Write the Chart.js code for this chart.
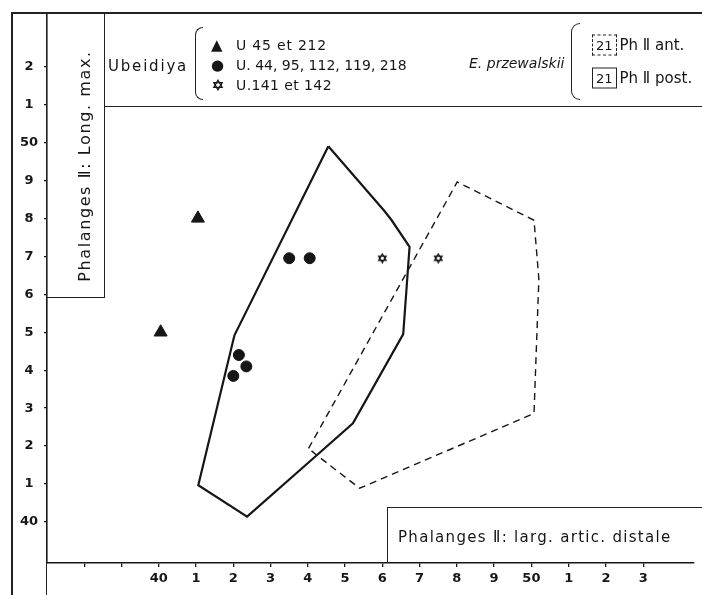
<!DOCTYPE html>
<html>
<head>
<meta charset="utf-8">
<script src="https://cdn.jsdelivr.net/npm/chart.js@4.4.1/dist/chart.umd.min.js"></script>
<style>
  html, body { margin: 0; padding: 0; background: #fff; }
  #wrap { position: relative; width: 702px; height: 595px; overflow: hidden; font-family: 'DejaVu Sans', sans-serif; color: #161616; }
  #chart { position: absolute; left: 0; top: 0; }
  .ov { position: absolute; box-sizing: border-box; pointer-events: none; }
  .lbl { position: absolute; white-space: nowrap; font-size: 14px; line-height: 1; transform: translateY(-50%); }
  .box21 { display: inline-block; font-size: 13px; padding: 3px 3px; border: 1.5px solid #222; margin-right: 3px; vertical-align: middle; letter-spacing: 0; }
</style>
</head>
<body>
<div id="wrap">
  <canvas id="chart" width="702" height="595"></canvas>

  <!-- frame lines -->
  <div class="ov" style="left:11px;top:12px;width:691px;height:583px;border-left:2px solid #222;border-top:2px solid #222;"></div>
  <div class="ov" style="left:46px;top:13px;width:59px;height:285px;border-left:1.5px solid #222;border-right:1.5px solid #222;border-bottom:1.5px solid #222;"></div>
  <div class="ov" style="left:46px;top:560px;width:2px;height:35px;border-left:1.5px solid #222;"></div>
  <div class="ov" style="left:104px;top:106px;width:598px;height:2px;border-top:1.5px solid #222;"></div>
  <div class="ov" style="left:387px;top:507px;width:315px;height:56px;border-left:1.5px solid #222;border-top:1.5px solid #222;"></div>

  <!-- axis titles -->
  <div class="lbl" style="left:85px;top:166px;font-size:16px;letter-spacing:1.6px;transform:translate(-50%,-50%) rotate(-90deg);">Phalanges Ⅱ: Long. max.</div>
  <div class="lbl" style="left:398px;top:537px;font-size:15px;letter-spacing:1.3px;">Phalanges Ⅱ: larg. artic. distale</div>

  <!-- legend -->
  <div class="lbl" style="left:108px;top:66px;font-size:15px;letter-spacing:1.8px;">Ubeidiya</div>
  <div class="ov" style="left:195px;top:27px;width:8px;height:73px;border-left:1.5px solid #222;border-top:1.5px solid #222;border-bottom:1.5px solid #222;border-radius:8px 0 0 8px;"></div>
  <div class="lbl" style="left:211px;top:45px;font-size:15px;">▲</div>
  <div class="lbl" style="left:236px;top:45px;letter-spacing:0.8px;">U 45 et 212</div>
  <div class="lbl" style="left:211px;top:65px;font-size:15px;">●</div>
  <div class="lbl" style="left:236px;top:65px;">U. 44, 95, 112, 119, 218</div>
  <canvas id="legStar" width="12" height="12" style="position:absolute;left:212px;top:79px;"></canvas>
  <div class="lbl" style="left:236px;top:85px;letter-spacing:0.4px;">U.141 et 142</div>

  <div class="lbl" style="left:469px;top:63px;font-style:italic;">E. przewalskii</div>
  <div class="ov" style="left:571px;top:23px;width:9px;height:77px;border-left:1.5px solid #222;border-top:1.5px solid #222;border-bottom:1.5px solid #222;border-radius:9px 0 0 9px;"></div>
  <div class="lbl" style="left:592px;top:45px;font-size:15px;"><span class="box21" style="border-style:dashed;">21</span>Ph Ⅱ ant.</div>
  <div class="lbl" style="left:592px;top:78px;font-size:15px;"><span class="box21">21</span>Ph Ⅱ post.</div>
</div>

<script>
// Ubeidiya specimens
const triX = [40.05, 41.05];            // U 45 et 212
const triY = [45.0, 48.0];
const dotX = [43.5, 44.05, 42.15, 42.35, 42.0];   // U. 44, 95, 112, 119, 218
const dotY = [46.95, 46.95, 44.4, 44.1, 43.85];
const starX = [46.0, 47.5];             // U.141 et 142
const starY = [46.95, 46.95];

// E. przewalskii ranges (outline vertices)
const postX = [44.55, 46.05, 46.25, 46.73, 46.56, 45.21, 44.24, 42.37, 41.06, 42.03, 42.34, 44.55];
const postY = [49.9, 48.2, 47.95, 47.25, 44.95, 42.6, 41.76, 40.14, 40.97, 44.92, 45.53, 49.9];
const antX = [44.02, 48.01, 50.07, 50.2, 50.07, 45.39, 44.24, 44.02];
const antY = [41.94, 48.96, 47.95, 46.4, 42.86, 40.89, 41.76, 41.94];

const xTickValues = [38, 39, 40, 41, 42, 43, 44, 45, 46, 47, 48, 49, 50, 51, 52, 53];
const yTickValues = [40, 41, 42, 43, 44, 45, 46, 47, 48, 49, 50, 51, 52];

const ink = '#161616';
const font = { family: "'DejaVu Sans', sans-serif", size: 13, weight: 'bold' };

function pts(xs, ys) {
    return xs.map((x, i) => ({ x: x, y: ys[i] }));
}

function drawStar(c) {
    const g = c.getContext('2d');
    const cx = c.width / 2, cy = c.height / 2, r = c.width / 2 - 1.2;
    g.strokeStyle = ink;
    g.lineWidth = 1.3;
    for (let k = 0; k < 2; k++) {
        g.beginPath();
        for (let i = 0; i < 3; i++) {
            const a = -Math.PI / 2 + k * Math.PI + i * 2 * Math.PI / 3;
            const px = cx + r * Math.cos(a), py = cy + r * Math.sin(a);
            if (i === 0) g.moveTo(px, py); else g.lineTo(px, py);
        }
        g.closePath();
        g.stroke();
    }
    return c;
}

const starIcon = document.createElement('canvas');
starIcon.width = 11;
starIcon.height = 11;
drawStar(starIcon);
drawStar(document.getElementById('legStar'));

function label2(v) {
    return v % 10 === 0 ? String(v) : String(v % 10);
}

new Chart(document.getElementById('chart').getContext('2d'), {
    type: 'scatter',
    data: {
        datasets: [
            { data: pts(postX, postY), showLine: true, borderColor: ink, borderWidth: 2.2, pointRadius: 0, fill: false },
            { data: pts(antX, antY), showLine: true, borderColor: ink, borderWidth: 1.4, borderDash: [7, 5], pointRadius: 0, fill: false },
            { data: pts(triX, triY), pointStyle: 'triangle', pointRadius: 7.5, backgroundColor: ink, borderColor: ink, borderWidth: 1 },
            { data: pts(dotX, dotY), pointStyle: 'circle', pointRadius: 5.5, backgroundColor: ink, borderColor: ink, borderWidth: 1 },
            { data: pts(starX, starY), pointStyle: starIcon, pointRadius: 5 }
        ]
    },
    options: {
        responsive: false,
        animation: false,
        events: [],
        layout: { padding: { top: 13, left: 0, right: 0, bottom: 0 } },
        plugins: { legend: { display: false }, tooltip: { enabled: false } },
        scales: {
            x: {
                type: 'linear',
                min: 37,
                max: 54.35,
                afterFit: s => { s.height = 32; },
                afterBuildTicks: s => { s.ticks = xTickValues.map(v => ({ value: v })); },
                grid: { drawOnChartArea: false, tickLength: 4, color: ink, lineWidth: 1.3 },
                border: { color: ink, width: 1.6 },
                ticks: {
                    autoSkip: false, maxRotation: 0, color: ink, font: font, padding: 4,
                    callback: v => (v < 40 ? '' : label2(v))
                }
            },
            y: {
                type: 'linear',
                min: 38.92,
                max: 53.39,
                afterFit: s => { s.width = 47; },
                afterBuildTicks: s => { s.ticks = yTickValues.map(v => ({ value: v })); },
                grid: { drawOnChartArea: false, tickLength: 3, color: ink, lineWidth: 1.3 },
                border: { color: ink, width: 1.6 },
                ticks: {
                    color: ink, font: font, padding: 6, crossAlign: 'center',
                    callback: v => label2(v)
                }
            }
        }
    }
});
</script>
</body>
</html>
